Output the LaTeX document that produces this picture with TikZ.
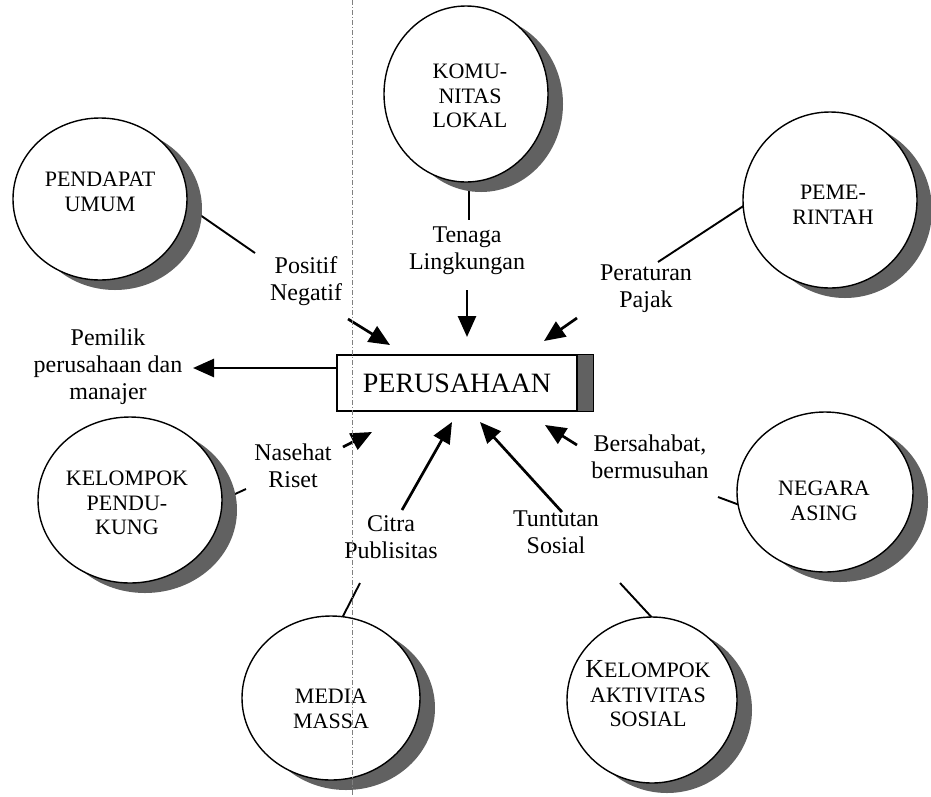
\documentclass[tikz,border=0pt]{standalone}
\usepackage{fontspec}
\setmainfont{Liberation Serif}
\usetikzlibrary{shapes.geometric,arrows.meta,shadows}

\begin{document}
\begin{tikzpicture}[x=1pt,y=-1pt,
  party/.style={ellipse, draw, line width=1.4pt, fill=white, inner sep=0pt,
    drop shadow={shadow xshift=15pt, shadow yshift=-10pt, opacity=1, fill=black!62}},
  ptext/.style={align=center, font=\fontsize{22}{24.5}\selectfont, inner sep=0pt},
  ltext/.style={align=center, font=\fontsize{24}{27}\selectfont, inner sep=0pt},
  link/.style={line width=1.9pt},
  flow/.style={line width=2.7pt, -{Triangle[length=21pt,width=18pt]}},
  guide/.style={black!50, line width=0.6pt, dash pattern=on 5pt off 2pt on 1pt off 2pt}
]
\useasboundingbox (0,0) rectangle (931,796);

% free ends of the links between the groups and their labels
\coordinate (pA) at (190,208);  \coordinate (pB) at (255,253);
\coordinate (kA) at (469,182);  \coordinate (kB) at (469,220);
\coordinate (gA) at (658,262);  \coordinate (gB) at (748,203);
\coordinate (nA) at (718,497);  \coordinate (nB) at (745,507);
\coordinate (sA) at (620,583);  \coordinate (sB) at (656,622);
\coordinate (mA) at (360,583);  \coordinate (mB) at (340,622);
\coordinate (dA) at (246,489);  \coordinate (dB) at (222,500);

\draw[link] (pA) -- (pB);
\draw[link] (kA) -- (kB);
\draw[link] (gA) -- (gB);
\draw[link] (nA) -- (nB);
\draw[link] (sA) -- (sB);
\draw[link] (mA) -- (mB);
\draw[link] (dA) -- (dB);

% the surrounding groups
\node[party, minimum width=174pt, minimum height=162pt] (pendapat)   at (100,199) {};
\node[party, minimum width=164pt, minimum height=176pt] (komunitas)  at (466,94)  {};
\node[party, minimum width=174pt, minimum height=176pt] (pemerintah) at (830,200) {};
\node[party, minimum width=176pt, minimum height=160pt] (negara)     at (825,492) {};
\node[party, minimum width=170pt, minimum height=166pt] (aktivitas)  at (652,700) {};
\node[party, minimum width=178pt, minimum height=164pt] (media)      at (331,698) {};
\node[party, minimum width=184pt, minimum height=166pt] (pendukung)  at (130,500) {};

\node[ptext] (tPendapat)   at (100,192) {PENDAPAT\\UMUM};
\node[ptext] (tKomunitas)  at (470,96)  {KOMU-\\NITAS\\LOKAL};
\node[ptext] (tPemerintah) at (833,205) {PEME-\\RINTAH};
\node[ptext] (tNegara)     at (824,501) {NEGARA\\ASING};
\node[ptext] (tAktivitas)  at (648,694) {{\fontsize{26}{26}\selectfont K}ELOMPOK\\AKTIVITAS\\SOSIAL};
\node[ptext] (tMedia)      at (331,709) {MEDIA\\MASSA};
\node[ptext] (tPendukung)  at (127,503) {KELOMPOK\\PENDU-\\KUNG};

% the company in the middle
\node[draw, line width=1.4pt, fill=white, minimum width=240pt, minimum height=56pt,
      inner sep=0pt, font=\fontsize{28}{28}\selectfont] (box) at (457,383) {PERUSAHAAN};
\draw[line width=1.4pt, fill=black!62] (box.north east) rectangle ([xshift=16pt]box.south east);

% influences
\coordinate (f1) at (348,319);  \coordinate (t1) at (390,345);
\coordinate (f2) at (467,290);  \coordinate (t2) at (467,337);
\coordinate (f3) at (577,318);  \coordinate (t3) at (544,341);
\coordinate (t4) at (193,368);
\coordinate (f5) at (343,447);  \coordinate (t5) at (372,432);
\coordinate (f6) at (402,510);  \coordinate (t6) at (452,422);
\coordinate (f7) at (562,512);  \coordinate (t7) at (480,422);
\coordinate (f8) at (577,445);  \coordinate (t8) at (545,425);

\draw[flow] (f1) -- (t1);
\draw[flow] (f2) -- (t2);
\draw[flow] (f3) -- (t3);
\draw[flow] ([yshift=15pt]box.west) -- (t4);
\draw[flow] (f5) -- (t5);
\draw[flow] (f6) -- (t6);
\draw[flow] (f7) -- (t7);
\draw[flow] (f8) -- (t8);

\node[ltext] (lPositif)    at (306,281) {Positif\\Negatif};
\node[ltext] (lTenaga)     at (467,251) {Tenaga\\Lingkungan};
\node[ltext] (lPeraturan)  at (646,289) {Peraturan\\Pajak};
\node[ltext] (lPemilik)    at (108,367) {Pemilik\\perusahaan dan\\manajer};
\node[ltext] (lNasehat)    at (293,466) {Nasehat\\Riset};
\node[ltext] (lCitra)      at (391,537) {Citra\\Publisitas};
\node[ltext] (lTuntutan)   at (556,532) {Tuntutan\\Sosial};
\node[ltext] (lBersahabat) at (650,457) {Bersahabat,\\bermusuhan};

% page guide running down the sheet
\draw[guide] (352,0) -- (352,796);
\end{tikzpicture}
\end{document}
